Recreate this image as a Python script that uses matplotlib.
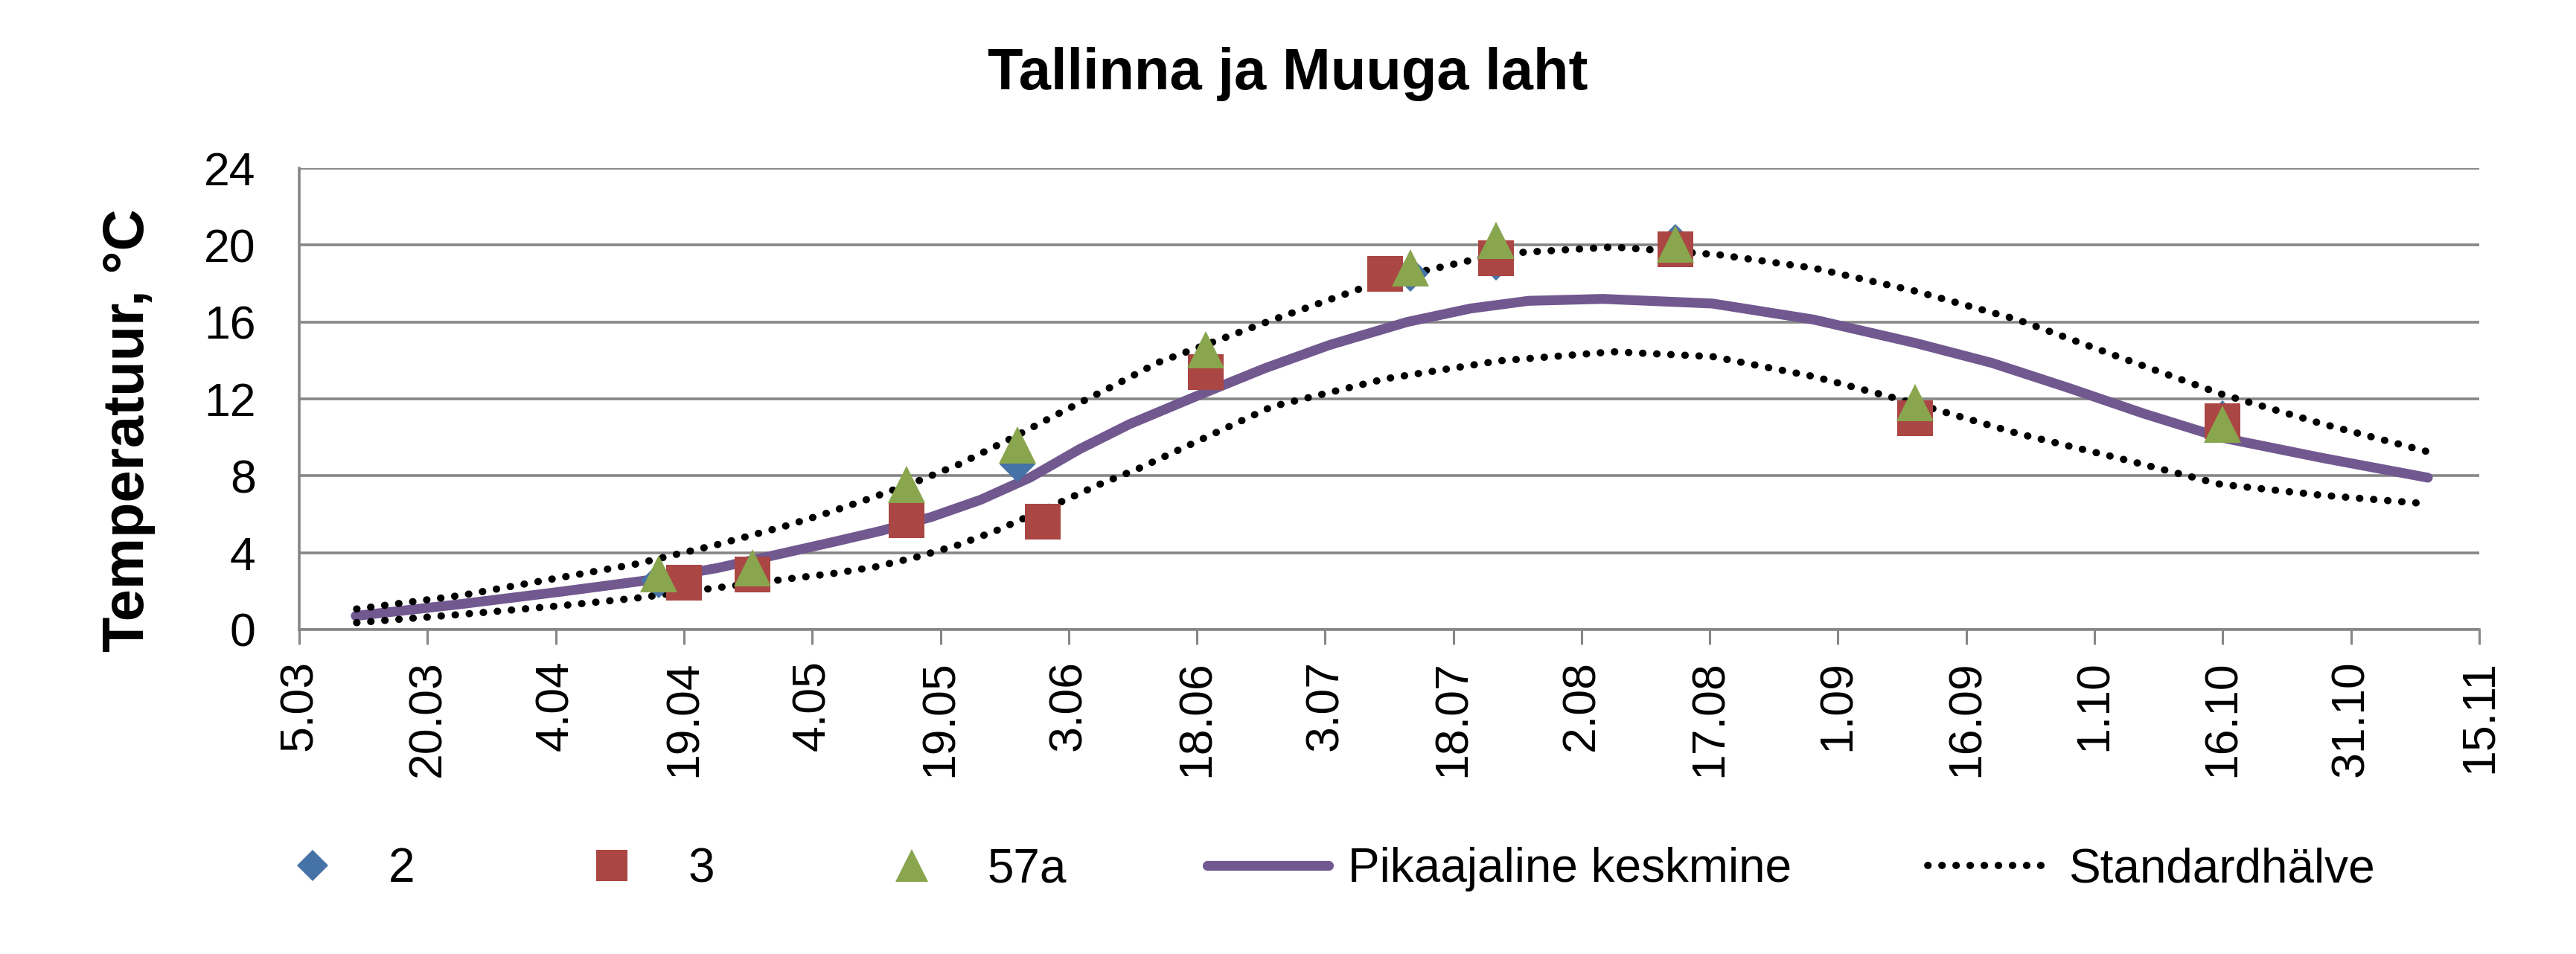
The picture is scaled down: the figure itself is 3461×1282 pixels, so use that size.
import matplotlib
matplotlib.use('Agg')

import matplotlib.pyplot as plt
import numpy as np
import pandas as pd

plt.rcParams['font.family'] = ['Liberation Sans', 'DejaVu Sans']

# x axis: days counted from 5 March
start = pd.Timestamp('2010-03-05')
tick_dates = pd.date_range(start, periods=18, freq='15D')
tick_labels = ['%d.%02d' % (d.day, d.month) for d in tick_dates]

# measured stations
s2_dates = ['16.04', '28.05', '13.07', '23.07', '13.08', '16.10']
s2_vals = [2.55, 8.6, 18.5, 19.1, 20.15, 11.0]

s3_dates = ['19.04', '27.04', '15.05', '31.05', '19.06', '10.07', '23.07', '13.08', '10.09', '16.10']
s3_vals = [2.44, 2.87, 5.7, 5.63, 13.4, 18.5, 19.3, 19.8, 11.0, 10.85]

s57_dates = ['16.04', '27.04', '15.05', '28.05', '19.06', '13.07', '23.07', '13.08', '10.09', '16.10']
s57_vals = [2.9, 3.2, 7.55, 9.6, 14.55, 18.8, 20.25, 20.05, 11.8, 10.7]

# long-term mean and +- standard deviation (days since 5.03)
mean_day = [6.6, 19.0, 30.6, 40.5, 48.9, 56.4, 62.3, 68.1, 73.9, 79.7, 85.5, 91.3,
            97.1, 105.8, 113.0, 120.5, 129.6, 137.0, 143.8, 152.5, 165.3, 177.2,
            189.1, 198.0, 206.9, 215.8, 224.7, 236.5, 249.0]
mean_val = [0.71, 1.33, 1.97, 2.55, 3.2, 3.95, 4.54, 5.14, 5.85, 6.75, 7.91, 9.39,
            10.68, 12.3, 13.6, 14.8, 16.0, 16.7, 17.1, 17.2, 16.96, 16.12,
            14.9, 13.87, 12.58, 11.23, 10.0, 8.94, 7.9]

up_day = [6.7, 19.0, 30.6, 39.3, 48.9, 56.9, 61.6, 66.3, 72.5, 77.1, 83.0, 88.8,
          94.8, 100.5, 113.8, 127.1, 140.4, 153.7, 166.0, 177.2, 189.1, 201.0,
          212.8, 224.7, 236.5, 249.0]
up_val = [1.07, 1.78, 2.71, 3.4, 4.42, 5.39, 6.04, 6.75, 7.75, 8.58, 9.88, 11.23,
          12.58, 13.9, 16.1, 18.2, 19.55, 19.9, 19.5, 18.8, 17.6, 16.12,
          14.19, 12.27, 10.72, 9.25]

lo_day = [6.7, 19.0, 30.6, 39.3, 48.1, 57.6, 62.5, 67.4, 72.2, 77.0, 81.6, 89.2,
          93.6, 98.3, 113.8, 127.1, 140.4, 153.7, 165.3, 177.2, 189.1, 201.0,
          212.8, 224.7, 236.5, 249.0]
lo_val = [0.36, 0.79, 1.24, 1.63, 2.13, 2.66, 2.92, 3.26, 3.77, 4.39, 5.16, 6.66,
          7.55, 8.4, 11.6, 13.05, 13.98, 14.45, 14.2, 13.16, 11.75, 10.2,
          8.92, 7.56, 6.99, 6.54]


def to_days(dates):
    dt = pd.to_datetime([d + '.2010' for d in dates], format='%d.%m.%Y')
    return np.asarray((dt - start).days, dtype=float)


tick_pos = np.asarray((tick_dates - start).days, dtype=float)

fig = plt.figure(figsize=(34.61, 12.82), dpi=100)
ax = fig.add_axes([0.1162, 0.3401, 0.9624 - 0.1162, 0.8237 - 0.3401])

grey = '#868686'
ax.grid(axis='y', color=grey, linewidth=2.6, zorder=0)
ax.set_axisbelow(True)

dots = (0, (0.05, 1.9))
l4, = ax.plot(mean_day, mean_val, color='#71588F', linewidth=9.5,
              solid_capstyle='round', solid_joinstyle='round', zorder=2)
l5, = ax.plot(up_day, up_val, color='black', linewidth=7,
              linestyle=dots, dash_capstyle='round', zorder=2)
ax.plot(lo_day, lo_val, color='black', linewidth=7,
        linestyle=dots, dash_capstyle='round', zorder=2)

l1, = ax.plot(to_days(s2_dates), s2_vals, 'D', color='#4572A7', markersize=24,
              markeredgewidth=0, zorder=3)
l2, = ax.plot(to_days(s3_dates), s3_vals, 's', color='#AA4643', markersize=35,
              markeredgewidth=0, zorder=4)
l3, = ax.plot(to_days(s57_dates), s57_vals, '^', color='#89A54E', markersize=36,
              markeredgewidth=0, zorder=5)

ax.set_xlim(tick_pos[0], tick_pos[-1])
ax.set_ylim(0, 24)
ax.set_yticks(np.arange(0, 25, 4))
ax.set_xticks(tick_pos)
ax.set_xticklabels(tick_labels, rotation=90)

for s in ['top', 'right']:
    ax.spines[s].set_visible(False)
for s in ['left', 'bottom']:
    ax.spines[s].set_color(grey)
    ax.spines[s].set_linewidth(2.6)
ax.tick_params(axis='x', length=14.5, width=2.2, color=grey, pad=15, labelsize=45)
ax.tick_params(axis='y', length=0, pad=42, labelsize=45)

ax.set_ylabel('Temperatuur, °C', fontsize=56, fontweight='bold')
ax.yaxis.set_label_coords(-0.066, 0.432)

fig.text(0.5, 0.922, 'Tallinna ja Muuga laht', ha='center', va='center',
         fontsize=56, fontweight='bold')

# legend in two parts: marker series and lines
fig.legend([l1, l2, l3], ['2', '3', '57a'],
           loc='center', bbox_to_anchor=(0.2631, 0.0889), ncol=3, frameon=False,
           fontsize=46, handlelength=1.0, handletextpad=1.1, columnspacing=3.64,
           markerscale=0.87)
fig.legend([l4, l5], ['Pikaajaline keskmine', 'Standardhälve'],
           loc='center', bbox_to_anchor=(0.6953, 0.0889), ncol=2, frameon=False,
           fontsize=46, handlelength=2.55, handletextpad=0.4, columnspacing=2.87)

plt.savefig('out.png', dpi=100)
